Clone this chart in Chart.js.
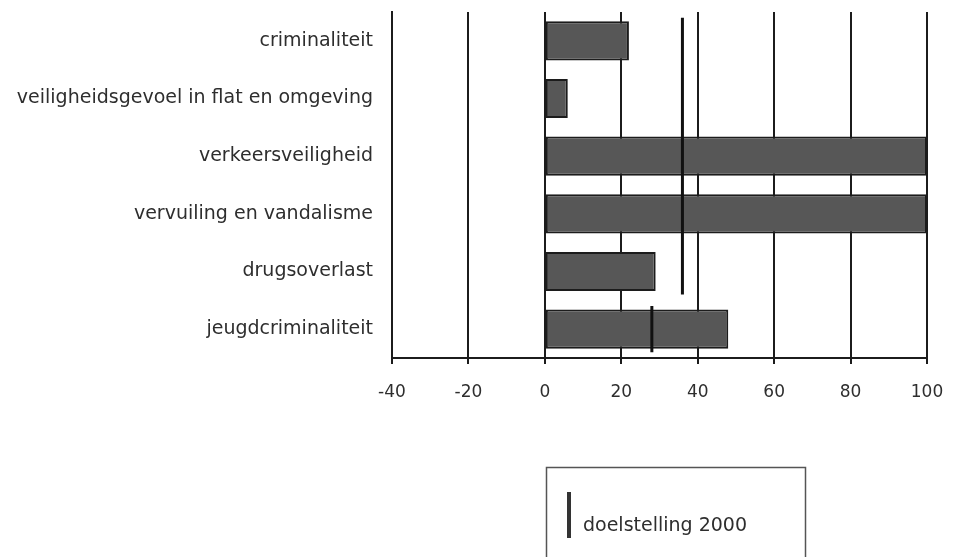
<!DOCTYPE html>
<html>
<head>
<meta charset="utf-8">
<script src="https://cdn.jsdelivr.net/npm/chart.js@4/dist/chart.umd.min.js"></script>
<style>
  html, body { margin: 0; padding: 0; background: #fff; }
  #wrap { width: 955px; height: 557px; }
</style>
</head>
<body>
<div id="wrap"><canvas id="grafiek" width="955" height="557"></canvas></div>
<script>
// DATOS
const categorieen = [
    "criminaliteit",
    "veiligheidsgevoel in flat en omgeving",
    "verkeersveiligheid",
    "vervuiling en vandalisme",
    "drugsoverlast",
    "jeugdcriminaliteit"
];
const waarden = [22, 6, 100, 100, 29, 48];
const doelstelling = [36, 36, 36, 36, 36, 28];
const xTicks = [-40, -20, 0, 20, 40, 60, 80, 100];
const legendaLabel = "doelstelling 2000";

const LIJN = "#1c1c1c";
const TEKST = "#2e2e2e";
const FONT = "'DejaVu Sans', sans-serif";

// Doelstelling als verticale streepjes per categorie (op een verborgen lineaire as)
let doelPunten = [];
doelstelling.forEach((d, i) => {
    doelPunten.push({ x: d, y: i - 0.4 });
    doelPunten.push({ x: d, y: i + 0.4 });
});

// Legenda in een kader onder de grafiek
const legendaKader = {
    id: "legendaKader",
    afterDraw(chart) {
        const ctx = chart.ctx;
        const label = chart.data.datasets[1].label;
        ctx.save();
        ctx.strokeStyle = "#555";
        ctx.lineWidth = 1.5;
        ctx.strokeRect(546.5, 467.5, 259, 110);
        ctx.strokeStyle = "#333";
        ctx.lineWidth = 4;
        ctx.beginPath();
        ctx.moveTo(569, 492);
        ctx.lineTo(569, 538);
        ctx.stroke();
        ctx.fillStyle = TEKST;
        ctx.font = "19px " + FONT;
        ctx.textBaseline = "alphabetic";
        ctx.fillText(label, 583, 531);
        ctx.restore();
    }
};

const ctx = document.getElementById("grafiek").getContext("2d");
new Chart(ctx, {
    type: "bar",
    data: {
        labels: categorieen,
        datasets: [{
            label: "score",
            data: waarden,
            backgroundColor: "#575757",
            borderColor: LIJN,
            borderWidth: 2,
            borderSkipped: false,
            grouped: false,
            categoryPercentage: 1,
            barPercentage: 0.68,
            order: 1
        }, {
            type: "line",
            label: legendaLabel,
            data: doelPunten,
            yAxisID: "yt",
            indexAxis: "y",
            borderColor: "#111",
            borderWidth: 3,
            pointRadius: 0,
            fill: false,
            segment: {
                borderColor: c => c.p0.parsed.x === c.p1.parsed.x ? "#111" : "transparent"
            },
            order: 0
        }]
    },
    options: {
        indexAxis: "y",
        responsive: false,
        animation: false,
        layout: { padding: { top: 12, right: 28, bottom: 0, left: 0 } },
        plugins: {
            legend: { display: false },
            tooltip: { enabled: false }
        },
        scales: {
            x: {
                type: "linear",
                min: -40,
                max: 100,
                afterBuildTicks: s => { s.ticks = xTicks.map(v => ({ value: v })); },
                afterFit: s => { s.height = 199; s.paddingLeft = 0; s.paddingRight = 0; },
                grid: { color: LIJN, lineWidth: 2, tickLength: 6 },
                border: { color: LIJN, width: 2 },
                ticks: { color: TEKST, padding: 18, font: { family: FONT, size: 17 } }
            },
            y: {
                type: "category",
                afterFit: s => { s.width = 392; s.paddingTop = 0; s.paddingBottom = 0; },
                grid: { display: false, drawTicks: false },
                border: { color: LIJN, width: 2 },
                ticks: { color: TEKST, padding: 19, font: { family: FONT, size: 19 } }
            },
            yt: {
                type: "linear",
                display: false,
                offset: false,
                grid: { offset: false },
                min: -0.5,
                max: 5.5,
                reverse: true
            }
        }
    },
    plugins: [legendaKader]
});
</script>
</body>
</html>
